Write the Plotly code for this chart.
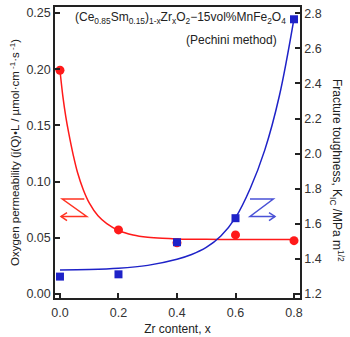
import plotly.graph_objects as go

# Measured samples
zr_content = [0.0, 0.2, 0.4, 0.6, 0.8]
permeability = [0.199, 0.057, 0.0455, 0.0525, 0.0474]      # j(O)*L, umol cm-1 s-1
toughness = [1.299, 1.312, 1.495, 1.632, 2.766]            # K_IC, MPa m^1/2

# Smooth trend lines through the measurements
perm_trend_x = [0.0, 0.01, 0.02, 0.03, 0.045, 0.06, 0.08, 0.1, 0.13, 0.16, 0.2, 0.25, 0.3, 0.35, 0.4, 0.5, 0.6, 0.7, 0.8]
perm_trend_y = [0.199, 0.1755, 0.1575, 0.143, 0.124, 0.108, 0.0925, 0.081, 0.0695, 0.0625, 0.0565, 0.0525, 0.0505, 0.0495, 0.049, 0.0486, 0.0485, 0.0485, 0.0485]
tough_trend_x = [0.0, 0.1, 0.2, 0.3, 0.4, 0.45, 0.5, 0.55, 0.6, 0.65, 0.7, 0.75, 0.8]
tough_trend_y = [1.337, 1.339, 1.346, 1.363, 1.398, 1.425, 1.465, 1.53, 1.635, 1.80, 2.02, 2.33, 2.77]

x_ticks = [0.0, 0.2, 0.4, 0.6, 0.8]
y1_ticks = [0.00, 0.05, 0.10, 0.15, 0.20, 0.25]
y2_ticks = [1.2, 1.4, 1.6, 1.8, 2.0, 2.2, 2.4, 2.6, 2.8]

RED = "#ff1a1a"
BLUE = "#1e22c8"
AXIS = "#222222"
FONT = "Liberation Sans, Arial, sans-serif"

fig = go.Figure()
fig.add_trace(go.Scatter(x=perm_trend_x, y=perm_trend_y, mode="lines", line=dict(color=RED, width=1.5, shape="spline"),
                         hoverinfo="skip", yaxis="y"))
fig.add_trace(go.Scatter(x=tough_trend_x, y=tough_trend_y, mode="lines", line=dict(color=BLUE, width=1.5, shape="spline"),
                         hoverinfo="skip", yaxis="y2"))
fig.add_trace(go.Scatter(x=zr_content, y=permeability, mode="markers", marker=dict(color=RED, size=9, symbol="circle"),
                         yaxis="y", cliponaxis=False))
fig.add_trace(go.Scatter(x=zr_content, y=toughness, mode="markers", marker=dict(color=BLUE, size=8, symbol="square"),
                         yaxis="y2", cliponaxis=False))

W, H = 350, 337
L, R, T, B = 55, 50, 7, 39


def px(x, y):
    """Pixel position -> paper coordinates."""
    return (x - L) / (W - L - R), (H - B - y) / (H - T - B)


def path(points):
    return " ".join(("M" if i == 0 else "L") + " {:.4f},{:.4f}".format(*px(*p)) for i, p in enumerate(points))


# Direction hints: which axis each series belongs to
red_arrow = [(84.3, 199), (62.3, 199), (86.7, 216.5), (61, 216.5)]
red_head = [(67, 212.5), (61, 216.5), (67, 220.5)]
blue_arrow = [(250, 199), (273.3, 199), (250, 216.5), (275, 216.5)]
blue_head = [(269, 212.5), (275, 216.5), (269, 220.5)]
shapes = []
for pts, col in [(red_arrow, "#ff3322"), (red_head, "#ff3322"), (blue_arrow, "#4a52d6"), (blue_head, "#4a52d6")]:
    shapes.append(dict(type="path", xref="paper", yref="paper", path=path(pts), line=dict(color=col, width=1.5)))

title_x, title_y = px(73, 18)
method_x, method_y = px(279, 40)
y2title_x, y2title_y = px(337, 170)

fig.update_layout(
    width=W, height=H,
    margin=dict(l=L, r=R, t=T, b=B, autoexpand=False),
    paper_bgcolor="white", plot_bgcolor="white",
    showlegend=False,
    font=dict(family=FONT, size=12, color=AXIS),
    shapes=shapes,
    xaxis=dict(range=[-0.017, 0.8205], tickvals=x_ticks, tickformat=".1f", ticks="inside", ticklen=5, tickwidth=1.5,
               tickcolor=AXIS, showline=True, linecolor=AXIS, linewidth=1.5, mirror=True, showgrid=False, zeroline=False,
               tickfont=dict(size=12.5, color="#333333"), ticklabelstandoff=2, automargin=False,
               title=dict(text="Zr content, x", font=dict(size=12, color="#222222"), standoff=6)),
    yaxis=dict(range=[-0.0036, 0.2553], tickvals=y1_ticks, tickformat=".2f", ticks="inside", ticklen=5, tickwidth=1.5,
               tickcolor=AXIS, showline=True, linecolor=AXIS, linewidth=1.5, showgrid=False, zeroline=False,
               tickfont=dict(size=12.5, color="#333333"), automargin=False,
               title=dict(text="Oxygen permeability (j(Q)\u2022L / \u00b5mol\u00b7cm<sup> -1</sup>\u00b7s<sup> -1</sup>)",
                          font=dict(size=11.5, color="#222222"), standoff=4)),
    yaxis2=dict(range=[1.177, 2.836], tickvals=y2_ticks, tickformat=".1f", ticks="inside", ticklen=5, tickwidth=1.5,
                tickcolor=AXIS, showline=True, linecolor=AXIS, linewidth=1.5, showgrid=False, zeroline=False,
                overlaying="y", side="right", tickfont=dict(size=12.5, color="#333333"), automargin=False),
    annotations=[
        dict(x=title_x, y=title_y, xref="paper", yref="paper", xanchor="left", yanchor="middle", showarrow=False,
             text="(Ce<sub>0.85</sub>Sm<sub>0.15</sub>)<sub>1-x</sub>Zr<sub>x</sub>O<sub>2</sub>\u221215vol%MnFe<sub>2</sub>O<sub>4</sub>",
             font=dict(size=12, color="#222222")),
        dict(x=method_x, y=method_y, xref="paper", yref="paper", xanchor="right", yanchor="middle", showarrow=False,
             text="(Pechini method)", font=dict(size=12, color="#222222")),
        dict(x=y2title_x, y=y2title_y, xref="paper", yref="paper", xanchor="center", yanchor="middle", showarrow=False,
             textangle=90, text="Fracture toughness, K<sub>IC</sub> /MPa m<sup>1/2</sup>",
             font=dict(size=12, color="#222222")),
    ],
)

fig.write_html("out.html")
